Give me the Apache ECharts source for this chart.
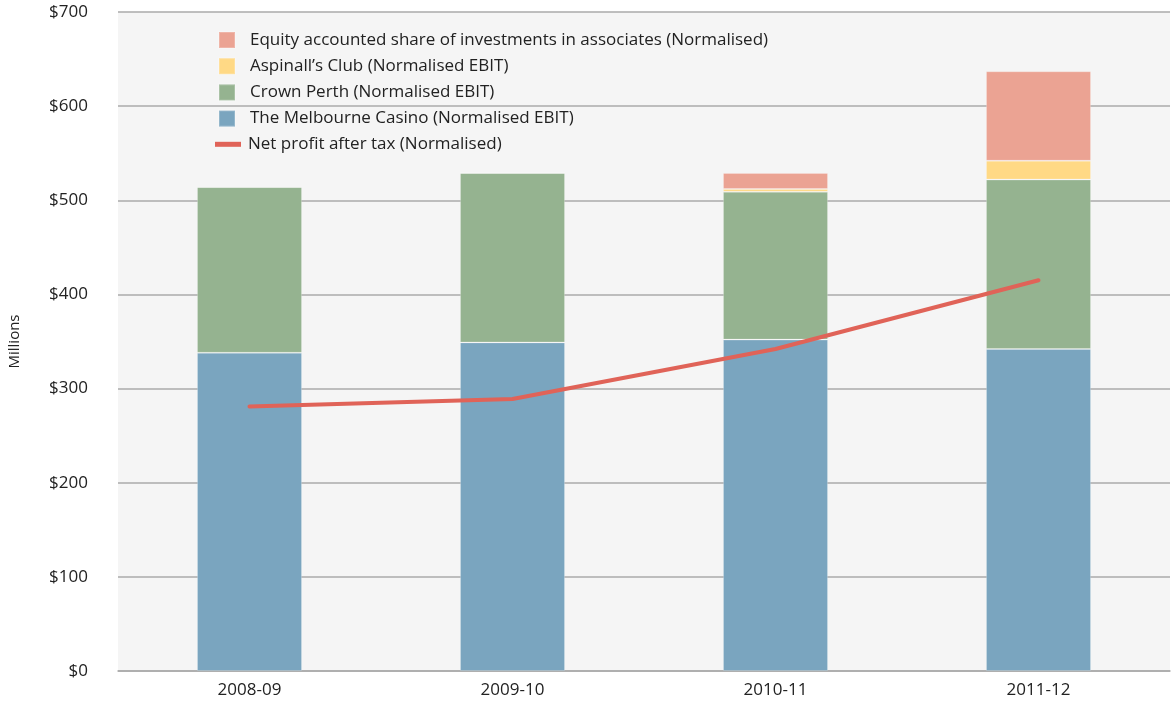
<!DOCTYPE html>
<html>
<head>
<meta charset="utf-8">
<script src="https://cdn.jsdelivr.net/npm/echarts@6/dist/echarts.min.js"></script>
<style>
  html, body { margin: 0; padding: 0; background: #fff; }
  #main { width: 1171px; height: 709px; }
</style>
</head>
<body>
<div id="main"></div>
<script>
const years = ['2008-09', '2009-10', '2010-11', '2011-12']
const melbourne = [338, 349, 352, 342]
const perth = [176, 180, 157, 180]
const aspinall = [0, 0, 3, 20]
const equity = [0, 0, 17, 95]
const netProfit = [281, 289, 342, 415]

const names = [
  'Equity accounted share of investments in associates (Normalised)',
  'Aspinall\u2019s Club (Normalised EBIT)',
  'Crown Perth (Normalised EBIT)',
  'The Melbourne Casino (Normalised EBIT)',
  'Net profit after tax (Normalised)'
]
const font = '"Open Sans", Lato, sans-serif'

const chart = echarts.init(document.getElementById('main'))

// one legend per row so each row has its own background like the original
const legends = names.map((n, i) => ({
  data: [{ name: n, icon: 'rect' }],
  left: i === 4 ? 211 : 214,
  top: 29 + i * 26.2,
  padding: [2, 4],
  itemWidth: i === 4 ? 26 : 16,
  itemHeight: i === 4 ? 5 : 16,
  itemGap: 0,
  backgroundColor: '#f5f5f5',
  textStyle: { fontSize: 17, color: '#222', fontFamily: font, padding: [0, 0, 0, i === 4 ? 2 : 10] }
}))

const barStyle = (color) => ({ color: color, borderColor: 'rgba(255,255,255,0.2)', borderWidth: 1 })

const option = {
  animation: false,
  legend: legends,
  grid: {
    left: 118, right: 1, top: 12, bottom: 38,
    outerBoundsMode: 'none',
    containLabel: false,
    show: true, backgroundColor: '#f5f5f5', borderWidth: 0
  },
  xAxis: {
    type: 'category',
    data: years,
    axisTick: { show: false },
    axisLine: { lineStyle: { color: '#aaa', width: 1.5 } },
    axisLabel: { fontSize: 17, color: '#222', fontFamily: font, margin: 11 }
  },
  yAxis: {
    type: 'value',
    min: 0, max: 700, interval: 100,
    name: 'Millions',
    nameLocation: 'middle',
    nameGap: 96,
    nameTextStyle: { fontSize: 15, color: '#222', fontFamily: font },
    axisLine: { show: false },
    axisTick: { show: false },
    splitLine: { lineStyle: { color: '#aaa', width: 1.5 } },
    axisLabel: { fontSize: 17, color: '#222', fontFamily: font, margin: 30, formatter: v => '$' + v }
  },
  series: [
    { name: names[3], type: 'bar', stack: 'a', barWidth: 105, data: melbourne, itemStyle: barStyle('#7aa5bf') },
    { name: names[2], type: 'bar', stack: 'a', data: perth, itemStyle: barStyle('#95b390') },
    { name: names[1], type: 'bar', stack: 'a', data: aspinall, itemStyle: barStyle('#ffd985') },
    { name: names[0], type: 'bar', stack: 'a', data: equity, itemStyle: barStyle('#eba393') },
    {
      name: names[4], type: 'line', data: netProfit, symbol: 'none', z: 5,
      lineStyle: { color: '#e06358', width: 4, cap: 'round' },
      itemStyle: { color: '#e06358' }
    }
  ]
}
chart.setOption(option)
</script>
</body>
</html>
